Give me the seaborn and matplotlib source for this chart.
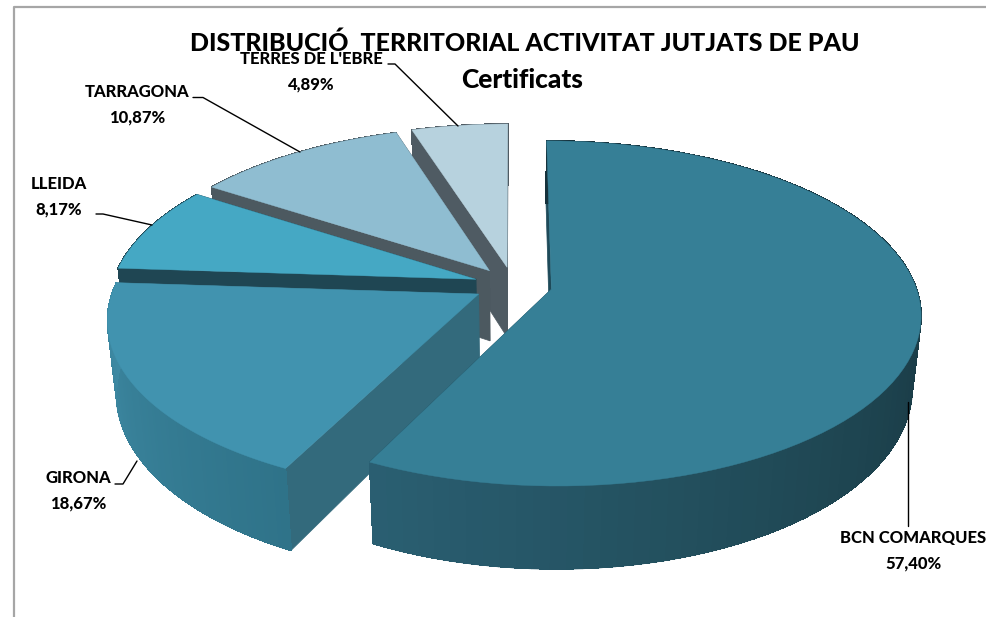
import numpy as np
import matplotlib.pyplot as plt
from matplotlib.patches import Polygon
import seaborn as sns

# dades del grafic
territoris = ["BCN COMARQUES", "GIRONA", "LLEIDA", "TARRAGONA", "TERRES DE L'EBRE"]
percentatges = [57.40, 18.67, 8.17, 10.87, 4.89]
titol = "DISTRIBUCIÓ  TERRITORIAL ACTIVITAT JUTJATS DE PAU"
subtitol = "Certificats"

# colors: cara superior, paret radial, paret exterior (inici, final)
colors_top = ["#367F96", "#4193AF", "#45A8C4", "#8FBDD1", "#B7D2DE"]
colors_rad = ["#1E4A59", "#336A7C", "#1F4653", "#4C5960", "#4F5B63"]
colors_ext = [("#16323C", "#16323C", "#1F4753", "#2A5F72"), ("#2F7389", "#3F8BA5"),
              ("#1F4653", "#1F4653"), ("#4C5960", "#4C5960"), ("#4F5B63", "#4F5B63")]

# posicio de les etiquetes i linies guia (pixels de la imatge)
pos_etiquetes = [(913, 538), (78, 478), (59, 184), (137, 92), (311, 59)]
guies = [[(908, 402), (908, 526)],
         [(115, 484), (123, 484), (137, 461)],
         [(96, 214), (103, 214), (152, 225)],
         [(193, 97.5), (203, 97.5), (300, 152)],
         [(388, 64), (395, 64), (458, 126)]]

sns.set_theme(style="white")
plt.rcParams["font.family"] = ["Lato", "DejaVu Sans"]

# parametres de la perspectiva
cx, cy = 513, 285
A, B, P = 364, 168, 0.14
H = 71
K = 0.022
EXPL = 0.108


def proj(x, y, z=0.0):
    w = 1 + P * y
    return cx + A * x / (w + K * z), cy - B * y / w + H * z / w


fig, ax = plt.subplots(figsize=(9.87, 6.17), dpi=100)
fig.subplots_adjust(0, 0, 1, 1)
ax.set_xlim(0, 987)
ax.set_ylim(617, 0)
ax.axis("off")

# marc del grafic (esquerra i dalt)
ax.plot([13.5, 13.5, 987], [617, 7, 7], color="#A6A6A6", lw=1.6)

limits = np.radians(np.cumsum([0] + percentatges) * 3.6)

# s'ordena de darrere cap endavant
for i in [4, 3, 2, 1, 0]:
    t0, t1 = limits[i], limits[i + 1]
    mig = (t0 + t1) / 2
    ox, oy = EXPL * np.sin(mig), EXPL * np.cos(mig)
    ts = np.linspace(t0, t1, 90)
    vx, vy = ox + np.sin(ts), oy + np.cos(ts)
    base = -3 * i + 20

    # parets radials
    for k in [0, -1]:
        quad = [proj(ox, oy), proj(vx[k], vy[k]), proj(vx[k], vy[k], 1), proj(ox, oy, 1)]
        ax.add_patch(Polygon(quad, fc=colors_rad[i], ec=colors_rad[i], lw=0.5, zorder=base))

    # paret exterior amb degradat: sense suavitzat per evitar ratlles, i la vora de baix a part
    pal = sns.blend_palette(colors_ext[i], len(ts))
    for j in range(len(ts) - 1):
        quad = [proj(vx[j], vy[j]), proj(vx[j + 1], vy[j + 1]),
                proj(vx[j + 1], vy[j + 1], 1), proj(vx[j], vy[j], 1)]
        ax.add_patch(Polygon(quad, fc=pal[j], ec=pal[j], lw=0.5, antialiased=False, zorder=base + 1))
        vora = [proj(vx[j], vy[j], 1), proj(vx[j + 1], vy[j + 1], 1)]
        ax.plot(*zip(*vora), color=pal[j], lw=1, zorder=base + 1, solid_capstyle="round")

    # cara superior
    sup = [proj(ox, oy)] + [proj(a, b) for a, b in zip(vx, vy)]
    ax.add_patch(Polygon(sup, fc=colors_top[i], ec=colors_top[i], lw=0.3, zorder=base + 2))

# etiquetes
for nom, val, (tx, ty), guia in zip(territoris, percentatges, pos_etiquetes, guies):
    ax.text(tx, ty, nom, ha="center", va="center", fontsize=12, fontweight=900, color="black", zorder=40)
    ax.text(tx, ty + 25, f"{val:.2f}%".replace(".", ","), ha="center", va="center",
            fontsize=12, fontweight=900, color="black", zorder=40)
    gx, gy = zip(*guia)
    ax.plot(gx, gy, color="black", lw=1, zorder=35)

ax.text(525, 43, titol, ha="center", va="center", fontsize=18, fontweight=900, color="black", zorder=41)
ax.text(522, 80, subtitol, ha="center", va="center", fontsize=19, fontweight=900, color="black", zorder=41)

fig.savefig("out.png", dpi=100)
